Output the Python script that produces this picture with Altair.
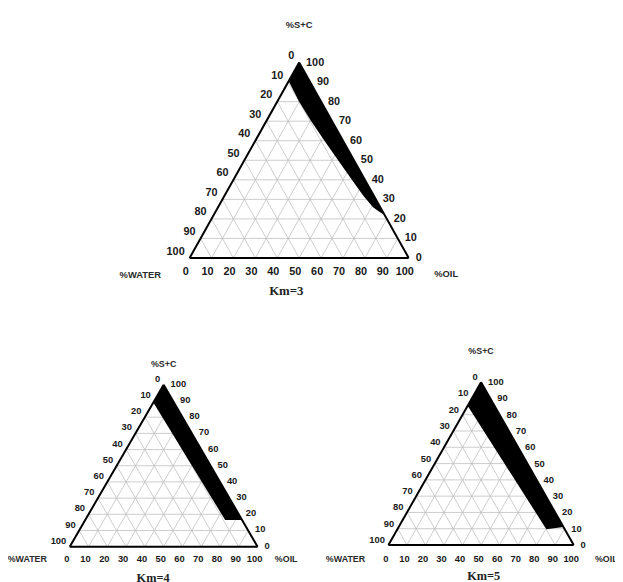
import altair as alt
import pandas as pd

# ---------------- data ----------------
TICKS = [0, 10, 20, 30, 40, 50, 60, 70, 80, 90, 100]
GRID_LEVELS = [10, 20, 30, 40, 50, 60, 70, 80, 90]
PANELS = ["Km=3", "Km=4", "Km=5"]
APEX_NAME = "%S+C"
LEFT_NAME = "%WATER"
RIGHT_NAME = "%OIL"

# single-phase (black) region: S+C level, water % on inner boundary, water % on outer boundary
KM3_SC = [100, 90.5, 80, 70, 58, 47, 39, 32, 26, 23.5, 22]
KM3_W_IN = [0, 9.5, 10, 9.5, 8.2, 6.8, 5.8, 4.8, 3.3, 1.5, 0]
KM3_W_OUT = [0, 0, 0, 0, 0, 0, 0, 0, 0, 0, 0]

KM4_SC = [100, 89, 16.5]
KM4_W_IN = [0, 11, 9]
KM4_W_OUT = [0, 0, 0]

KM5_SC = [100, 85.5, 11, 9.6]
KM5_W_IN = [0, 14.5, 10, 9.9]
KM5_W_OUT = [0, 0, 0, 9.9]

BANDS = {
    "Km=3": (KM3_SC, KM3_W_IN, KM3_W_OUT),
    "Km=4": (KM4_SC, KM4_W_IN, KM4_W_OUT),
    "Km=5": (KM5_SC, KM5_W_IN, KM5_W_OUT),
}

# ---------------- layout (page pixels) ----------------
LAYOUT = {
    "Km=3": dict(ax=303, ay=59.5, w=222, h=198, tick=11, name=9.5, title=13,
                 top_dy=-38, left_dx=-50, left_dy=17, right_dx=38, right_dy=16,
                 title_dx=-13, title_dy=34, bt_dx=-4, bt_dy=14, lt_dx=-5, lt_dy=-6.5,
                 rt_dx=7, rt_dy=0),
    "Km=4": dict(ax=165.7, ay=386, w=190.3, h=164, tick=9.5, name=9, title=12.5,
                 top_dy=-21, left_dx=-43, left_dy=12.5, right_dx=29, right_dy=12.5,
                 title_dx=-10.7, title_dy=31.7, bt_dx=-3, bt_dy=12.5, lt_dx=-3.5, lt_dy=-6,
                 rt_dx=7, rt_dy=-1),
    "Km=5": dict(ax=487.3, ay=383.3, w=187.7, h=165, tick=9.5, name=9, title=12.5,
                 top_dy=-31.6, left_dx=-43.5, left_dy=14, right_dx=33, right_dy=14,
                 title_dx=2.7, title_dy=31.7, bt_dx=-2.5, bt_dy=14, lt_dx=-3.5, lt_dy=-5,
                 rt_dx=7, rt_dy=0),
}

PAGE_W, PAGE_H = 615, 574
X0, Y0 = 8, 8


def tern(p, s, w):
    """ternary (S+C %, water %) -> page coordinates"""
    o = 100 - s - w
    x = p["ax"] - p["w"] / 2 + p["w"] * (o + s / 2) / 100
    y = p["ay"] + p["h"] * (1 - s / 100)
    return x, y


grid_rows, edge_rows = [], []
band_rows = {pn: [] for pn in PANELS}
bottom_lbl, left_lbl, right_lbl, name_lbl, title_lbl = [], [], [], [], []

for pn in PANELS:
    p = LAYOUT[pn]
    for k in GRID_LEVELS:
        segs = [((k, 100 - k), (k, 0)),          # constant S+C
                ((100 - k, k), (0, k)),          # constant water
                ((100 - k, 0), (0, 100 - k))]    # constant oil
        for a, b in segs:
            x1, y1 = tern(p, *a)
            x2, y2 = tern(p, *b)
            grid_rows.append(dict(panel=pn, x=x1, y=y1, x2=x2, y2=y2))
    for a, b in [((100, 0), (0, 100)), ((0, 100), (0, 0)), ((0, 0), (100, 0))]:
        x1, y1 = tern(p, *a)
        x2, y2 = tern(p, *b)
        edge_rows.append(dict(panel=pn, x=x1, y=y1, x2=x2, y2=y2))
    sc, w_in, w_out = BANDS[pn]
    for s, wi, wo in zip(sc, w_in, w_out):
        xi, yi = tern(p, s, wi)
        xo, _ = tern(p, s, wo)
        band_rows[pn].append(dict(y=yi, x=xi, x2=xo))
    for t in TICKS:
        x, y = tern(p, 0, 100 - t)
        bottom_lbl.append(dict(x=x + p["bt_dx"], y=y + p["bt_dy"], text=str(t), fs=p["tick"]))
        x, y = tern(p, 100 - t, t)
        left_lbl.append(dict(x=x + p["lt_dx"], y=y + p["lt_dy"], text=str(t), fs=p["tick"]))
        x, y = tern(p, t, 0)
        right_lbl.append(dict(x=x + p["rt_dx"], y=y + p["rt_dy"], text=str(t), fs=p["tick"]))
    ax_, ay_ = tern(p, 100, 0)
    blx, bly = tern(p, 0, 100)
    brx, bry = tern(p, 0, 0)
    name_lbl.append(dict(x=ax_, y=ay_ + p["top_dy"], text=APEX_NAME, fs=p["name"]))
    name_lbl.append(dict(x=blx + p["left_dx"], y=bly + p["left_dy"], text=LEFT_NAME, fs=p["name"]))
    name_lbl.append(dict(x=brx + p["right_dx"], y=bry + p["right_dy"], text=RIGHT_NAME, fs=p["name"]))
    title_lbl.append(dict(x=ax_ + p["title_dx"], y=bly + p["title_dy"], text=pn, fs=p["title"]))

xs = alt.Scale(domain=[X0, X0 + PAGE_W], nice=False, zero=False)
ys = alt.Scale(domain=[Y0, Y0 + PAGE_H], nice=False, zero=False, reverse=True)

grid = alt.Chart(pd.DataFrame(grid_rows)).mark_rule(color="#c0c0c0", strokeWidth=0.8).encode(
    x=alt.X("x:Q", scale=xs, axis=None), y=alt.Y("y:Q", scale=ys, axis=None),
    x2="x2:Q", y2="y2:Q")

bands = [
    alt.Chart(pd.DataFrame(band_rows[pn])).mark_area(
        orient="horizontal", color="black", fillOpacity=1, interpolate="linear").encode(
        y=alt.Y("y:Q", scale=ys, axis=None),
        x=alt.X("x:Q", scale=xs, axis=None, stack=None),
        x2="x2:Q")
    for pn in PANELS
]

edges = alt.Chart(pd.DataFrame(edge_rows)).mark_rule(color="black", strokeWidth=2).encode(
    x=alt.X("x:Q", scale=xs, axis=None), y=alt.Y("y:Q", scale=ys, axis=None),
    x2="x2:Q", y2="y2:Q")


def text_layer(rows, align, color="#1a1a1a", font="Liberation Sans"):
    return alt.Chart(pd.DataFrame(rows)).mark_text(
        align=align, baseline="middle", font=font, fontWeight="bold", color=color).encode(
        x=alt.X("x:Q", scale=xs, axis=None), y=alt.Y("y:Q", scale=ys, axis=None),
        text="text:N", size=alt.Size("fs:Q", scale=None, legend=None))


chart = alt.layer(
    grid, *bands, edges,
    text_layer(bottom_lbl, "center"),
    text_layer(left_lbl, "right"),
    text_layer(right_lbl, "left"),
    text_layer(name_lbl, "center", color="#2a2a2a"),
    text_layer(title_lbl, "center", color="#222222", font="Liberation Serif"),
).properties(
    width=PAGE_W, height=PAGE_H, padding=0, autosize=alt.AutoSizeParams(type="none")
).configure_view(stroke=None)

chart.save("out.html", embed_options={"renderer": "svg", "actions": False})
